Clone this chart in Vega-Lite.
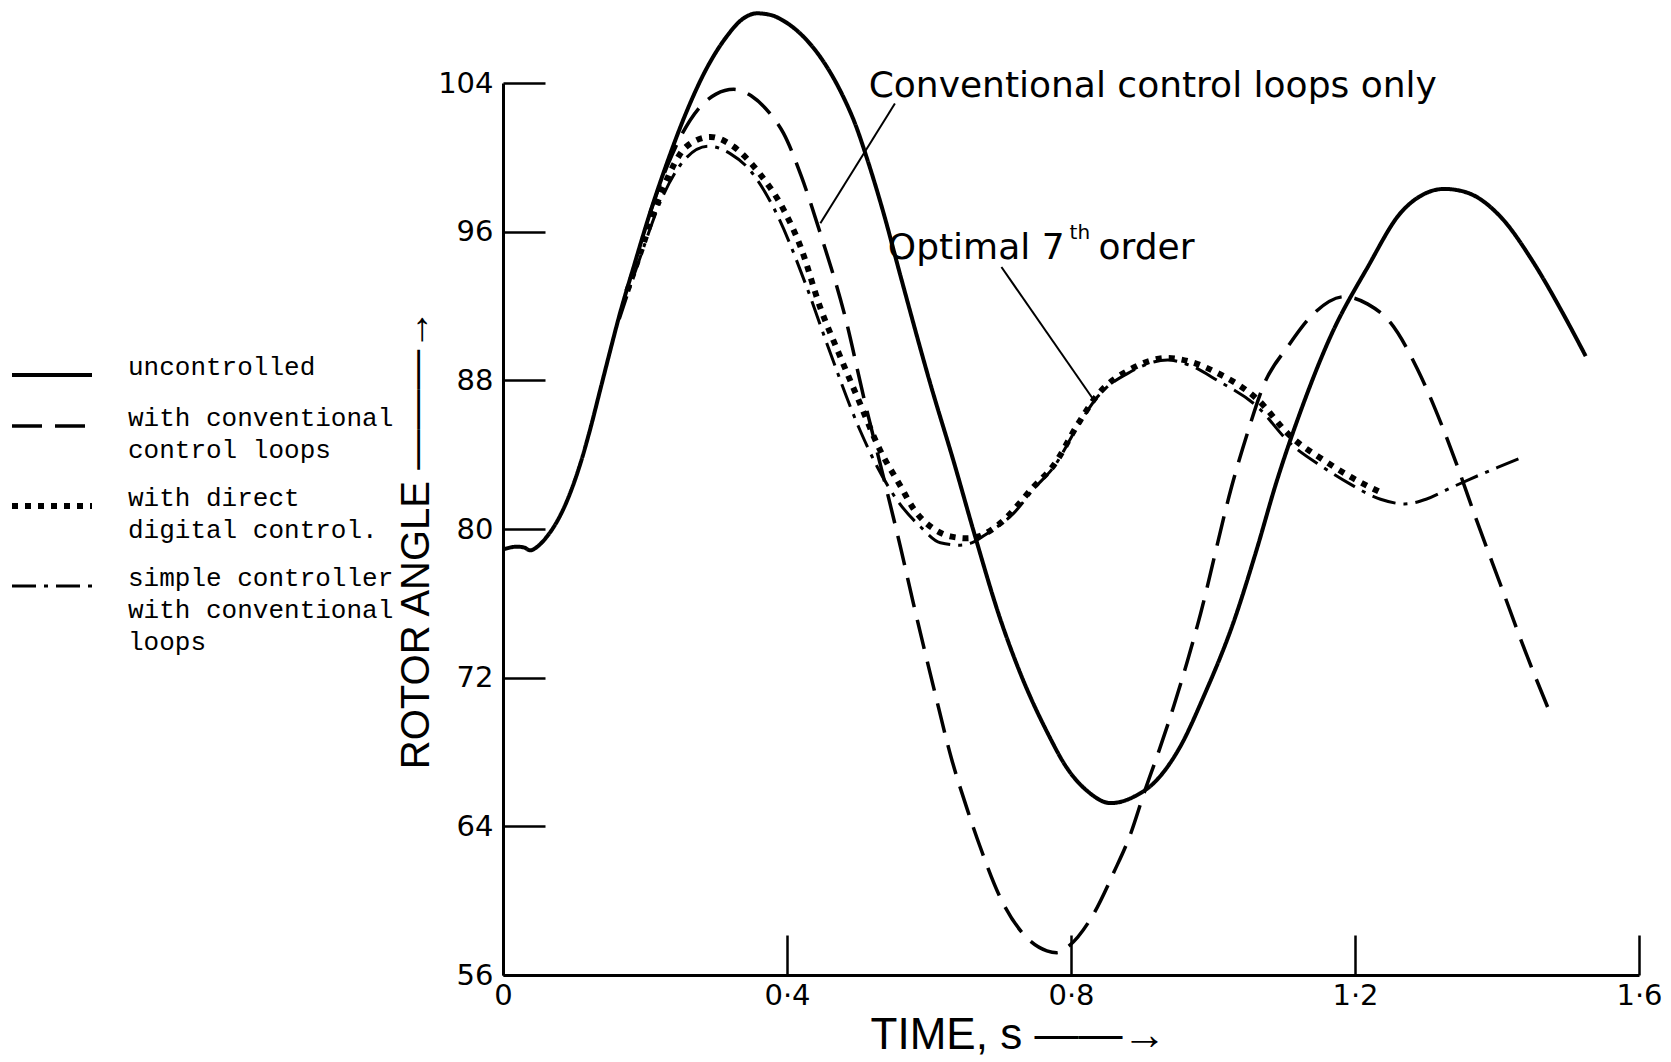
{
  "$schema": "https://vega.github.io/schema/vega-lite/v6.json",
  "width": 1136,
  "height": 892,
  "autosize": {"type": "none"},
  "padding": {"left": 503, "top": 83, "right": 32, "bottom": 87},
  "background": "white",
  "config": {
    "view": {"stroke": null},
    "style": {"guide-label": {"lineHeight": 32}}
  },
  "datasets": {
    "curves": [
      {"series": "uncontrolled", "t": 0.000, "angle": 78.9},
      {"series": "uncontrolled", "t": 0.020, "angle": 79.05},
      {"series": "uncontrolled", "t": 0.030, "angle": 79.0},
      {"series": "uncontrolled", "t": 0.038, "angle": 78.85},
      {"series": "uncontrolled", "t": 0.050, "angle": 79.1},
      {"series": "uncontrolled", "t": 0.062, "angle": 79.6},
      {"series": "uncontrolled", "t": 0.076, "angle": 80.4},
      {"series": "uncontrolled", "t": 0.090, "angle": 81.5},
      {"series": "uncontrolled", "t": 0.108, "angle": 83.4},
      {"series": "uncontrolled", "t": 0.123, "angle": 85.4},
      {"series": "uncontrolled", "t": 0.137, "angle": 87.5},
      {"series": "uncontrolled", "t": 0.151, "angle": 89.6},
      {"series": "uncontrolled", "t": 0.164, "angle": 91.5},
      {"series": "uncontrolled", "t": 0.184, "angle": 94.1},
      {"series": "uncontrolled", "t": 0.207, "angle": 97.0},
      {"series": "uncontrolled", "t": 0.231, "angle": 99.7},
      {"series": "uncontrolled", "t": 0.259, "angle": 102.5},
      {"series": "uncontrolled", "t": 0.287, "angle": 104.8},
      {"series": "uncontrolled", "t": 0.315, "angle": 106.5},
      {"series": "uncontrolled", "t": 0.336, "angle": 107.4},
      {"series": "uncontrolled", "t": 0.358, "angle": 107.75},
      {"series": "uncontrolled", "t": 0.378, "angle": 107.65},
      {"series": "uncontrolled", "t": 0.395, "angle": 107.35},
      {"series": "uncontrolled", "t": 0.410, "angle": 106.95},
      {"series": "uncontrolled", "t": 0.428, "angle": 106.3},
      {"series": "uncontrolled", "t": 0.445, "angle": 105.5},
      {"series": "uncontrolled", "t": 0.462, "angle": 104.5},
      {"series": "uncontrolled", "t": 0.480, "angle": 103.2},
      {"series": "uncontrolled", "t": 0.496, "angle": 101.8},
      {"series": "uncontrolled", "t": 0.513, "angle": 99.9},
      {"series": "uncontrolled", "t": 0.536, "angle": 97.0},
      {"series": "uncontrolled", "t": 0.560, "angle": 93.6},
      {"series": "uncontrolled", "t": 0.602, "angle": 87.8},
      {"series": "uncontrolled", "t": 0.635, "angle": 83.6},
      {"series": "uncontrolled", "t": 0.665, "angle": 79.6},
      {"series": "uncontrolled", "t": 0.700, "angle": 75.2},
      {"series": "uncontrolled", "t": 0.729, "angle": 72.2},
      {"series": "uncontrolled", "t": 0.766, "angle": 69.1},
      {"series": "uncontrolled", "t": 0.795, "angle": 67.1},
      {"series": "uncontrolled", "t": 0.823, "angle": 65.9},
      {"series": "uncontrolled", "t": 0.856, "angle": 65.25},
      {"series": "uncontrolled", "t": 0.889, "angle": 65.6},
      {"series": "uncontrolled", "t": 0.921, "angle": 66.5},
      {"series": "uncontrolled", "t": 0.954, "angle": 68.3},
      {"series": "uncontrolled", "t": 0.987, "angle": 71.0},
      {"series": "uncontrolled", "t": 1.030, "angle": 75.1},
      {"series": "uncontrolled", "t": 1.060, "angle": 78.7},
      {"series": "uncontrolled", "t": 1.090, "angle": 82.6},
      {"series": "uncontrolled", "t": 1.124, "angle": 86.4},
      {"series": "uncontrolled", "t": 1.166, "angle": 90.4},
      {"series": "uncontrolled", "t": 1.218, "angle": 94.1},
      {"series": "uncontrolled", "t": 1.264, "angle": 97.0},
      {"series": "uncontrolled", "t": 1.296, "angle": 98.0},
      {"series": "uncontrolled", "t": 1.326, "angle": 98.3},
      {"series": "uncontrolled", "t": 1.358, "angle": 98.1},
      {"series": "uncontrolled", "t": 1.405, "angle": 96.8},
      {"series": "uncontrolled", "t": 1.452, "angle": 94.3},
      {"series": "uncontrolled", "t": 1.490, "angle": 91.8},
      {"series": "uncontrolled", "t": 1.525, "angle": 89.3},

      {"series": "with conventional|control loops", "t": 0.207, "angle": 97.0},
      {"series": "with conventional|control loops", "t": 0.231, "angle": 99.5},
      {"series": "with conventional|control loops", "t": 0.250, "angle": 101.1},
      {"series": "with conventional|control loops", "t": 0.275, "angle": 102.6},
      {"series": "with conventional|control loops", "t": 0.300, "angle": 103.4},
      {"series": "with conventional|control loops", "t": 0.325, "angle": 103.66},
      {"series": "with conventional|control loops", "t": 0.350, "angle": 103.3},
      {"series": "with conventional|control loops", "t": 0.375, "angle": 102.4},
      {"series": "with conventional|control loops", "t": 0.395, "angle": 101.3},
      {"series": "with conventional|control loops", "t": 0.420, "angle": 99.0},
      {"series": "with conventional|control loops", "t": 0.447, "angle": 95.9},
      {"series": "with conventional|control loops", "t": 0.482, "angle": 91.4},
      {"series": "with conventional|control loops", "t": 0.508, "angle": 87.1},
      {"series": "with conventional|control loops", "t": 0.541, "angle": 82.0},
      {"series": "with conventional|control loops", "t": 0.560, "angle": 79.0},
      {"series": "with conventional|control loops", "t": 0.578, "angle": 76.0},
      {"series": "with conventional|control loops", "t": 0.607, "angle": 71.4},
      {"series": "with conventional|control loops", "t": 0.632, "angle": 67.6},
      {"series": "with conventional|control loops", "t": 0.654, "angle": 64.9},
      {"series": "with conventional|control loops", "t": 0.672, "angle": 62.9},
      {"series": "with conventional|control loops", "t": 0.700, "angle": 60.2},
      {"series": "with conventional|control loops", "t": 0.733, "angle": 58.2},
      {"series": "with conventional|control loops", "t": 0.766, "angle": 57.3},
      {"series": "with conventional|control loops", "t": 0.780, "angle": 57.2},
      {"series": "with conventional|control loops", "t": 0.795, "angle": 57.5},
      {"series": "with conventional|control loops", "t": 0.832, "angle": 59.3},
      {"series": "with conventional|control loops", "t": 0.860, "angle": 61.5},
      {"series": "with conventional|control loops", "t": 0.884, "angle": 63.6},
      {"series": "with conventional|control loops", "t": 0.903, "angle": 65.8},
      {"series": "with conventional|control loops", "t": 0.926, "angle": 68.3},
      {"series": "with conventional|control loops", "t": 0.945, "angle": 70.5},
      {"series": "with conventional|control loops", "t": 0.964, "angle": 72.9},
      {"series": "with conventional|control loops", "t": 0.978, "angle": 74.8},
      {"series": "with conventional|control loops", "t": 1.030, "angle": 82.8},
      {"series": "with conventional|control loops", "t": 1.048, "angle": 85.1},
      {"series": "with conventional|control loops", "t": 1.072, "angle": 87.8},
      {"series": "with conventional|control loops", "t": 1.105, "angle": 89.8},
      {"series": "with conventional|control loops", "t": 1.142, "angle": 91.6},
      {"series": "with conventional|control loops", "t": 1.185, "angle": 92.5},
      {"series": "with conventional|control loops", "t": 1.218, "angle": 92.1},
      {"series": "with conventional|control loops", "t": 1.250, "angle": 91.1},
      {"series": "with conventional|control loops", "t": 1.288, "angle": 88.6},
      {"series": "with conventional|control loops", "t": 1.321, "angle": 85.7},
      {"series": "with conventional|control loops", "t": 1.344, "angle": 83.4},
      {"series": "with conventional|control loops", "t": 1.370, "angle": 80.6},
      {"series": "with conventional|control loops", "t": 1.405, "angle": 77.0},
      {"series": "with conventional|control loops", "t": 1.440, "angle": 73.4},
      {"series": "with conventional|control loops", "t": 1.478, "angle": 69.8},

      {"series": "with direct|digital control.", "t": 0.175, "angle": 92.8},
      {"series": "with direct|digital control.", "t": 0.193, "angle": 94.8},
      {"series": "with direct|digital control.", "t": 0.225, "angle": 98.3},
      {"series": "with direct|digital control.", "t": 0.259, "angle": 100.6},
      {"series": "with direct|digital control.", "t": 0.292, "angle": 101.1},
      {"series": "with direct|digital control.", "t": 0.320, "angle": 100.7},
      {"series": "with direct|digital control.", "t": 0.362, "angle": 99.1},
      {"series": "with direct|digital control.", "t": 0.395, "angle": 97.2},
      {"series": "with direct|digital control.", "t": 0.419, "angle": 95.2},
      {"series": "with direct|digital control.", "t": 0.447, "angle": 91.9},
      {"series": "with direct|digital control.", "t": 0.473, "angle": 89.45},
      {"series": "with direct|digital control.", "t": 0.499, "angle": 87.1},
      {"series": "with direct|digital control.", "t": 0.531, "angle": 84.25},
      {"series": "with direct|digital control.", "t": 0.560, "angle": 82.3},
      {"series": "with direct|digital control.", "t": 0.578, "angle": 81.1},
      {"series": "with direct|digital control.", "t": 0.609, "angle": 79.95},
      {"series": "with direct|digital control.", "t": 0.630, "angle": 79.6},
      {"series": "with direct|digital control.", "t": 0.654, "angle": 79.5},
      {"series": "with direct|digital control.", "t": 0.670, "angle": 79.6},
      {"series": "with direct|digital control.", "t": 0.700, "angle": 80.3},
      {"series": "with direct|digital control.", "t": 0.748, "angle": 82.3},
      {"series": "with direct|digital control.", "t": 0.776, "angle": 83.45},
      {"series": "with direct|digital control.", "t": 0.809, "angle": 85.6},
      {"series": "with direct|digital control.", "t": 0.837, "angle": 87.2},
      {"series": "with direct|digital control.", "t": 0.884, "angle": 88.6},
      {"series": "with direct|digital control.", "t": 0.936, "angle": 89.2},
      {"series": "with direct|digital control.", "t": 0.968, "angle": 89.0},
      {"series": "with direct|digital control.", "t": 1.006, "angle": 88.4},
      {"series": "with direct|digital control.", "t": 1.062, "angle": 87.0},
      {"series": "with direct|digital control.", "t": 1.109, "angle": 85.0},
      {"series": "with direct|digital control.", "t": 1.156, "angle": 83.7},
      {"series": "with direct|digital control.", "t": 1.194, "angle": 82.8},
      {"series": "with direct|digital control.", "t": 1.240, "angle": 81.9},

      {"series": "simple controller|with conventional|loops", "t": 0.164, "angle": 91.3},
      {"series": "simple controller|with conventional|loops", "t": 0.193, "angle": 94.6},
      {"series": "simple controller|with conventional|loops", "t": 0.225, "angle": 97.9},
      {"series": "simple controller|with conventional|loops", "t": 0.250, "angle": 99.6},
      {"series": "simple controller|with conventional|loops", "t": 0.289, "angle": 100.6},
      {"series": "simple controller|with conventional|loops", "t": 0.320, "angle": 100.2},
      {"series": "simple controller|with conventional|loops", "t": 0.348, "angle": 99.3},
      {"series": "simple controller|with conventional|loops", "t": 0.381, "angle": 97.3},
      {"series": "simple controller|with conventional|loops", "t": 0.428, "angle": 93.0},
      {"series": "simple controller|with conventional|loops", "t": 0.456, "angle": 90.0},
      {"series": "simple controller|with conventional|loops", "t": 0.503, "angle": 85.3},
      {"series": "simple controller|with conventional|loops", "t": 0.527, "angle": 83.35},
      {"series": "simple controller|with conventional|loops", "t": 0.555, "angle": 81.56},
      {"series": "simple controller|with conventional|loops", "t": 0.588, "angle": 80.12},
      {"series": "simple controller|with conventional|loops", "t": 0.616, "angle": 79.26},
      {"series": "simple controller|with conventional|loops", "t": 0.644, "angle": 79.13},
      {"series": "simple controller|with conventional|loops", "t": 0.660, "angle": 79.25},
      {"series": "simple controller|with conventional|loops", "t": 0.682, "angle": 79.76},
      {"series": "simple controller|with conventional|loops", "t": 0.719, "angle": 80.84},
      {"series": "simple controller|with conventional|loops", "t": 0.748, "angle": 82.18},
      {"series": "simple controller|with conventional|loops", "t": 0.776, "angle": 83.35},
      {"series": "simple controller|with conventional|loops", "t": 0.809, "angle": 85.5},
      {"series": "simple controller|with conventional|loops", "t": 0.837, "angle": 87.1},
      {"series": "simple controller|with conventional|loops", "t": 0.884, "angle": 88.46},
      {"series": "simple controller|with conventional|loops", "t": 0.936, "angle": 89.09},
      {"series": "simple controller|with conventional|loops", "t": 0.968, "angle": 88.8},
      {"series": "simple controller|with conventional|loops", "t": 1.006, "angle": 88.0},
      {"series": "simple controller|with conventional|loops", "t": 1.062, "angle": 86.6},
      {"series": "simple controller|with conventional|loops", "t": 1.109, "angle": 84.6},
      {"series": "simple controller|with conventional|loops", "t": 1.156, "angle": 83.3},
      {"series": "simple controller|with conventional|loops", "t": 1.194, "angle": 82.4},
      {"series": "simple controller|with conventional|loops", "t": 1.236, "angle": 81.6},
      {"series": "simple controller|with conventional|loops", "t": 1.270, "angle": 81.35},
      {"series": "simple controller|with conventional|loops", "t": 1.300, "angle": 81.6},
      {"series": "simple controller|with conventional|loops", "t": 1.334, "angle": 82.2},
      {"series": "simple controller|with conventional|loops", "t": 1.363, "angle": 82.7},
      {"series": "simple controller|with conventional|loops", "t": 1.400, "angle": 83.3},
      {"series": "simple controller|with conventional|loops", "t": 1.438, "angle": 83.9}
    ],
    "leaders": [
      {"t": 0.552, "angle": 102.9, "t2": 0.447, "angle2": 96.45},
      {"t": 0.702, "angle": 94.1, "t2": 0.832, "angle2": 86.94}
    ],
    "notes": [
      {"label": "Conventional control loops only", "t": 0.515, "angle": 103.86},
      {"label": "Optimal 7", "t": 0.542, "angle": 95.12},
      {"label": "order", "t": 0.8388, "angle": 95.12}
    ],
    "sup": [
      {"label": "th", "t": 0.798, "angle": 95.6}
    ]
  },
  "layer": [
    {
      "data": {"name": "curves"},
      "mark": {"type": "line", "interpolate": "monotone", "stroke": "black", "strokeCap": "butt", "strokeJoin": "round"},
      "encoding": {
        "x": {
          "field": "t", "type": "quantitative",
          "scale": {"domain": [0, 1.6], "nice": false, "zero": false},
          "axis": {
            "values": [0, 0.4, 0.8, 1.2, 1.6],
            "labelExpr": "datum.value == 0 ? '0' : replace(format(datum.value, '.1f'), '.', '·')",
            "grid": false,
            "tickSize": -40, "tickWidth": 2.5, "tickColor": "black",
            "domainColor": "black", "domainWidth": 3,
            "labelFont": "DejaVu Sans", "labelFontSize": 29, "labelColor": "black",
            "labelPadding": 46, "labelFlush": false, "labelOverlap": false,
            "title": "TIME, s ——→",
            "titleFont": "Liberation Sans", "titleFontSize": 44, "titleFontWeight": "normal", "titleColor": "black",
            "titleX": 515, "titleY": 60, "titleAlign": "center", "titleBaseline": "middle"
          }
        },
        "y": {
          "field": "angle", "type": "quantitative",
          "scale": {"domain": [56, 104], "nice": false, "zero": false},
          "axis": {
            "values": [56, 64, 72, 80, 88, 96, 104],
            "format": "d",
            "grid": false,
            "tickSize": -42, "tickWidth": 2.5, "tickColor": "black",
            "domainColor": "black", "domainWidth": 3,
            "labelFont": "DejaVu Sans", "labelFontSize": 29, "labelColor": "black",
            "labelPadding": 52, "labelAlign": "right", "labelBaseline": "middle", "labelOverlap": false, "labelFlush": false,
            "title": "ROTOR ANGLE ———→",
            "titleFont": "Liberation Sans", "titleFontSize": 40, "titleFontWeight": "normal", "titleColor": "black",
            "titleX": -87, "titleY": 456, "titleAngle": 270, "titleAlign": "center", "titleBaseline": "middle"
          }
        },
        "strokeDash": {
          "field": "series", "type": "nominal",
          "scale": {
            "domain": ["uncontrolled", "with conventional|control loops", "with direct|digital control.", "simple controller|with conventional|loops"],
            "range": [[1, 0], [30, 13], [6, 7], [24, 8, 4, 8]]
          },
          "legend": {
            "orient": "none", "legendX": -464, "legendY": 279, "title": null, "padding": 0,
            "symbolType": "M-4,0H4", "symbolSize": 400, "symbolStrokeColor": "black",
            "labelFont": "Liberation Mono", "labelFontSize": 26, "labelColor": "black", "labelLimit": 800,
            "labelExpr": "split(datum.label, '|')", "labelOffset": 63, "labelBaseline": "alphabetic",
            "rowPadding": 22
          }
        },
        "strokeWidth": {
          "field": "series", "type": "nominal",
          "scale": {
            "type": "ordinal",
            "domain": ["uncontrolled", "with conventional|control loops", "with direct|digital control.", "simple controller|with conventional|loops"],
            "range": [4, 3.5, 6, 3]
          },
          "legend": {
            "orient": "none", "legendX": -464, "legendY": 279, "title": null, "padding": 0,
            "symbolType": "M-4,0H4", "symbolSize": 400, "symbolStrokeColor": "black",
            "labelFont": "Liberation Mono", "labelFontSize": 26, "labelColor": "black", "labelLimit": 800,
            "labelExpr": "split(datum.label, '|')", "labelOffset": 63, "labelBaseline": "alphabetic",
            "rowPadding": 22
          }
        }
      }
    },
    {
      "data": {"name": "leaders"},
      "mark": {"type": "rule", "stroke": "black", "strokeWidth": 2},
      "encoding": {
        "x": {"field": "t", "type": "quantitative"},
        "y": {"field": "angle", "type": "quantitative"},
        "x2": {"field": "t2"},
        "y2": {"field": "angle2"}
      }
    },
    {
      "data": {"name": "notes"},
      "mark": {"type": "text", "font": "DejaVu Sans", "fontSize": 36, "align": "left", "baseline": "middle", "fill": "black"},
      "encoding": {
        "x": {"field": "t", "type": "quantitative"},
        "y": {"field": "angle", "type": "quantitative"},
        "text": {"field": "label"}
      }
    },
    {
      "data": {"name": "sup"},
      "mark": {"type": "text", "font": "DejaVu Sans", "fontSize": 20, "align": "left", "baseline": "alphabetic", "fill": "black"},
      "encoding": {
        "x": {"field": "t", "type": "quantitative"},
        "y": {"field": "angle", "type": "quantitative"},
        "text": {"field": "label"}
      }
    }
  ]
}
